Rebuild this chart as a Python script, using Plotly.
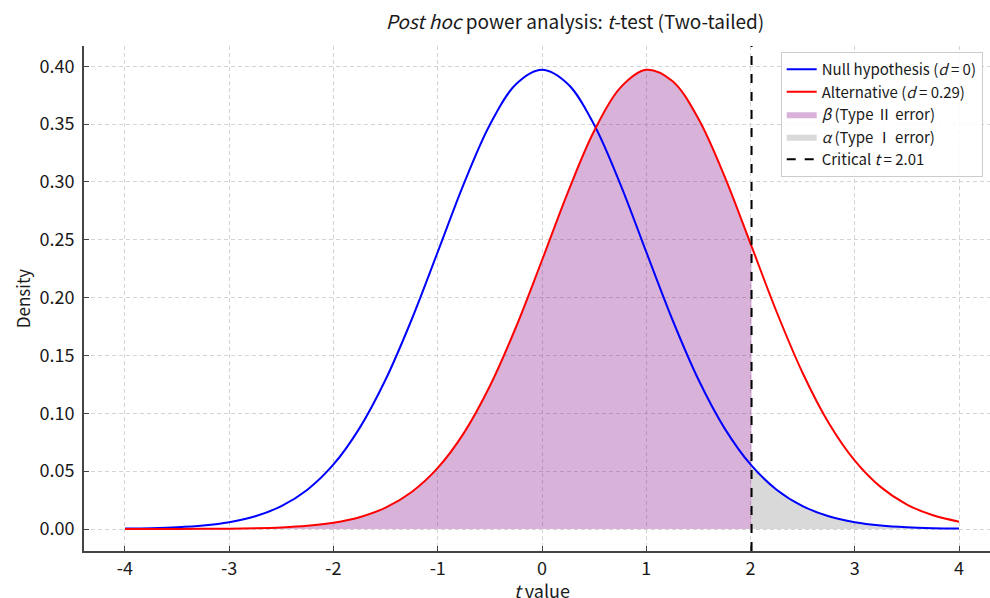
import numpy as np
import plotly.graph_objects as go

# t grid and densities (df ~ 48, shift ~ 1.03)
t_vals = [-4.0, -3.75, -3.5, -3.25, -3.0, -2.75, -2.5, -2.25, -2.0, -1.75, -1.5, -1.25,
          -1.0, -0.75, -0.5, -0.25, 0.0, 0.25, 0.5, 0.75, 1.0, 1.25, 1.5, 1.75,
          2.0, 2.25, 2.5, 2.75, 3.0, 3.25, 3.5, 3.75, 4.0]
null_density = [0.00034, 0.00073, 0.00151, 0.00304, 0.00589, 0.0110, 0.0198, 0.0340,
                0.0558, 0.0872, 0.1292, 0.1811, 0.2395, 0.2984, 0.3495, 0.3844,
                0.3969, 0.3844, 0.3495, 0.2984, 0.2395, 0.1811, 0.1292, 0.0872,
                0.0558, 0.0340, 0.0198, 0.0110, 0.00589, 0.00304, 0.00151, 0.00073, 0.00034]
alt_density = [0.00001, 0.00003, 0.00006, 0.00014, 0.00031, 0.00067, 0.00139, 0.00280,
               0.00545, 0.01024, 0.01848, 0.0320, 0.0528, 0.0829, 0.1236, 0.1744,
               0.2323, 0.2915, 0.3440, 0.3813, 0.3969, 0.3872, 0.3547, 0.3051,
               0.2467, 0.1878, 0.1349, 0.0917, 0.0591, 0.0362, 0.02116, 0.01184, 0.00636]
crit_t = 2.01
null_at_crit = 0.0548
alt_at_crit = 0.2443

x_ticks = [-4, -3, -2, -1, 0, 1, 2, 3, 4]
x_ticktext = ["-4", "-3", "-2", "-1", "0", "1", "2", "3", "4"]
y_ticks = [0.0, 0.05, 0.10, 0.15, 0.20, 0.25, 0.30, 0.35, 0.40]

t = np.array(t_vals)
null_y = np.array(null_density)
alt_y = np.array(alt_density)

left = t < crit_t
beta_x = np.append(t[left], crit_t)
beta_y = np.append(alt_y[left], alt_at_crit)
alpha_x = np.insert(t[~left], 0, crit_t)
alpha_y = np.insert(null_y[~left], 0, null_at_crit)

font = "Noto Sans CJK JP"
ink = "#1a1a1a"
y_range = [-0.019, 0.4175]

fig = go.Figure()

fig.add_trace(go.Scatter(
    x=beta_x, y=beta_y, mode="lines", fill="tozeroy",
    line=dict(width=0, shape="spline"), fillcolor="rgba(128,0,128,0.3)",
    name="<i>β</i> (Type Ⅱ error)", legendrank=3,
))
fig.add_trace(go.Scatter(
    x=alpha_x, y=alpha_y, mode="lines", fill="tozeroy",
    line=dict(width=0, shape="spline"), fillcolor="rgba(128,128,128,0.3)",
    name="<i>α</i> (Type Ⅰ error)", legendrank=4,
))
fig.add_trace(go.Scatter(
    x=t, y=null_y, mode="lines", line=dict(color="blue", width=2, shape="spline"),
    name="Null hypothesis (<i>d</i> = 0)", legendrank=1,
))
fig.add_trace(go.Scatter(
    x=t, y=alt_y, mode="lines", line=dict(color="red", width=2, shape="spline"),
    name="Alternative (<i>d</i> = 0.29)", legendrank=2,
))
# critical value line spanning the full axis height
fig.add_trace(go.Scatter(
    x=[crit_t, crit_t], y=y_range, mode="lines",
    line=dict(color="black", width=2, dash="dash"),
    name="Critical <i>t</i> = 2.01", legendrank=5,
))

axis_common = dict(
    showgrid=True, gridcolor="#d4d4d4", griddash="4px,3px", gridwidth=0.8,
    zeroline=False, showline=True, linecolor="#444444", linewidth=1.8,
    ticks="inside", ticklen=5, tickwidth=1.2, tickcolor="#444444",
    tickfont=dict(family=font, size=18, color=ink), automargin=False,
)

fig.update_xaxes(
    **axis_common, range=[-4.393, 4.297], tickvals=x_ticks, ticktext=x_ticktext,
    ticklabelstandoff=0,
)
fig.update_yaxes(
    **axis_common, range=y_range, tickvals=y_ticks, tickformat=".2f",
    ticklabelstandoff=4,
    title=dict(text="Density", font=dict(family=font, size=17, color=ink), standoff=5),
)

# x-axis label placed as an annotation so it sits as low as in the original
fig.add_annotation(
    text="<i>t</i> value", xref="paper", yref="paper", x=0.5055, y=-0.078,
    xanchor="center", yanchor="middle", showarrow=False,
    font=dict(family=font, size=18, color=ink),
)

fig.update_layout(
    width=990, height=598,
    margin=dict(l=84, r=0, t=46, b=47),
    plot_bgcolor="white", paper_bgcolor="white",
    font=dict(family=font, color=ink),
    title=dict(
        text="<i>Post hoc</i> power analysis: <i>t</i>-test (Two-tailed)",
        x=0.542, xref="paper", xanchor="center", y=0.962, yanchor="middle",
        font=dict(family=font, size=19, color=ink), automargin=False,
    ),
    legend=dict(
        x=0.769, y=0.988, xanchor="left", yanchor="top",
        bgcolor="rgba(255,255,255,0.85)", bordercolor="#cccccc", borderwidth=1,
        font=dict(family=font, size=15, color=ink),
        tracegroupgap=0, itemwidth=30,
    ),
)

# drop the page's default body margin so the figure sits at the window origin
fig.write_html(
    "out.html",
    config={"displayModeBar": False},
    post_script="document.body.style.margin='0px';",
)
